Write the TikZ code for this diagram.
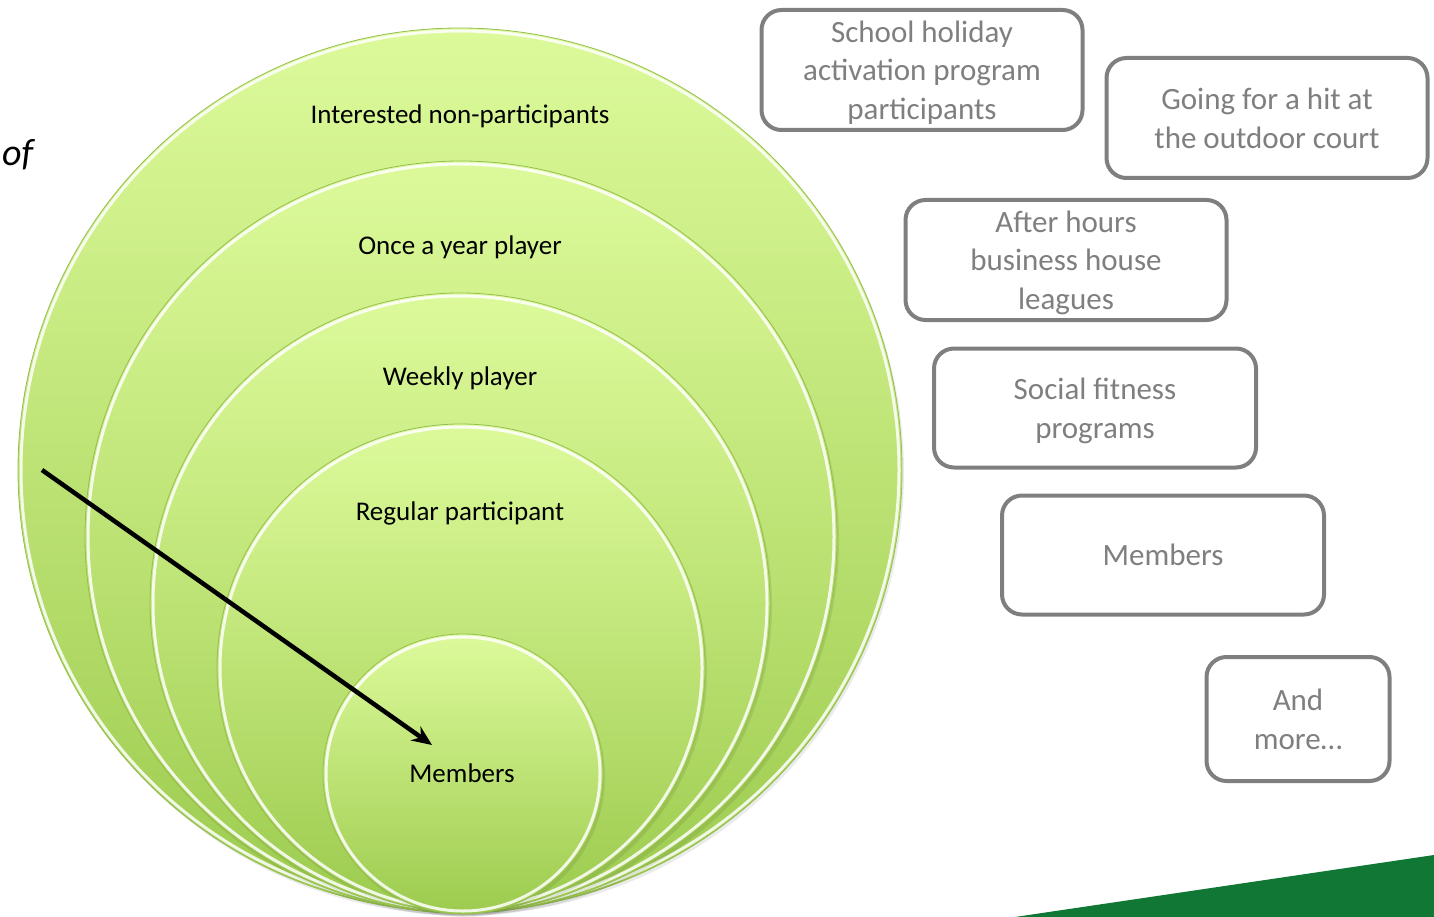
\documentclass[tikz,border=0pt]{standalone}
\usepackage{fontspec}
\setmainfont{Carlito}
\usetikzlibrary{arrows.meta}
\definecolor{ringtop}{RGB}{221,250,155}
\definecolor{ringbot}{RGB}{156,203,78}
\definecolor{ringedge}{RGB}{150,190,80}
\definecolor{boxgray}{RGB}{127,127,127}
\definecolor{pitch}{RGB}{17,119,52}
\tikzset{
  ring/.style={top color=ringtop, bottom color=ringbot, draw=ringedge, line width=0.8pt},
  gloss/.style={draw=white, line width=3pt, opacity=0.85},
  drop/.style={fill=black, opacity=0.08},
  level/.style={font=\fontsize{27}{32}\selectfont, text=black, inner sep=0pt},
  offer/.style={draw=boxgray, line width=4pt, rounded corners=20pt, text=boxgray,
    align=center, inner sep=0pt, text depth=0pt, font=\fontsize{31}{38.5}\selectfont},
}
\begin{document}
\begin{tikzpicture}[x=1pt,y=-1pt]
  \useasboundingbox (0,0) rectangle (1434,917);
  \fill[pitch] (1015,917) -- (1434,855) -- (1434,917) -- cycle;
  \node[anchor=west, inner sep=0pt, font=\itshape\fontsize{38}{44}\selectfont] (of) at (2,155) {of};

  \path[drop] (462,473) circle[radius=442pt];
  \path[ring] (460,470) circle[radius=442pt];
  \draw[gloss] (460,470) circle[radius=439pt];
  \path[drop] (463,540) circle[radius=376pt];
  \path[ring] (461,537) circle[radius=376pt];
  \draw[gloss] (461,537) circle[radius=373pt];
  \path[drop] (462,606) circle[radius=310pt];
  \path[ring] (460,603) circle[radius=310pt];
  \draw[gloss] (460,603) circle[radius=307pt];
  \path[drop] (463,671) circle[radius=244pt];
  \path[ring] (461,668) circle[radius=244pt];
  \draw[gloss] (461,668) circle[radius=241pt];
  \path[drop] (465,777) circle[radius=140pt];
  \path[ring] (463,774) circle[radius=140pt];
  \draw[gloss] (463,774) circle[radius=137pt];

  \node[level] (l1) at (460,116) {Interested non-participants};
  \node[level] (l2) at (460,247) {Once a year player};
  \node[level] (l3) at (460,378) {Weekly player};
  \node[level] (l4) at (460,513) {Regular participant};
  \node[level] (l5) at (462,773) {Members};

  \coordinate (tail) at (42,470);
  \coordinate (tip) at (432,745);
  \draw[line width=4.5pt, -{Stealth[length=20pt,width=17pt]}] (tail) -- (tip);

  \node[offer, minimum width=321pt, minimum height=120pt] (s1) at (922,70) {School holiday\\activation program\\participants};
  \node[offer, minimum width=321pt, minimum height=120pt] (s2) at (1267,118) {Going for a hit at\\the outdoor court};
  \node[offer, minimum width=321pt, minimum height=120pt] (s3) at (1066,260) {After hours\\business house\\leagues};
  \node[offer, minimum width=322pt, minimum height=119pt] (s4) at (1095,408) {Social fitness\\programs};
  \node[offer, minimum width=322pt, minimum height=119pt] (s5) at (1163,555) {Members};
  \node[offer, minimum width=183pt, minimum height=124pt] (s6) at (1298,719) {And\\more\dots};
\end{tikzpicture}
\end{document}
